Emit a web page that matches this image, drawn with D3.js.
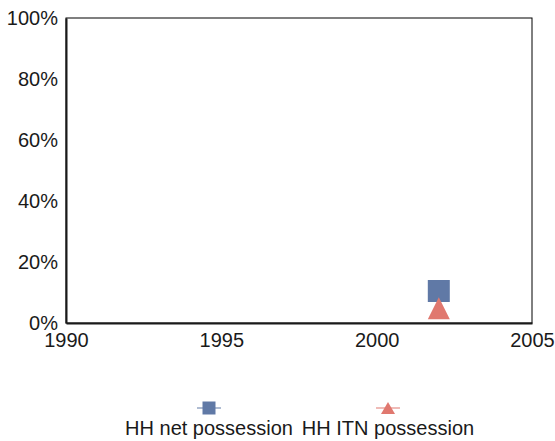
<!DOCTYPE html>
<html>
<head>
<meta charset="utf-8">
<title>HH net possession</title>
<script src="https://cdn.jsdelivr.net/npm/d3@7"></script>
<style>
  body { margin: 0; background: #fff; }
  text { font-family: "Liberation Sans", Arial, sans-serif; fill: #1a1a1a; }
</style>
</head>
<body>
<div id="chart"></div>
<script>
// data
var seriesNames = ["HH net possession", "HH ITN possession"];
var seriesColors = ["#6079a6", "#e0786f"];
var years = [2002];
var netValues = [0.105];
var itnValues = [0.048];
var yTicks = [0, 0.2, 0.4, 0.6, 0.8, 1.0];
var xTicks = [1990, 1995, 2000, 2005];

var width = 555, height = 441;
var margin = {top: 18, right: 23, bottom: 118, left: 66};

var svg = d3.select("#chart").append("svg")
    .attr("width", width)
    .attr("height", height);

var x = d3.scaleLinear().domain([1990, 2005]).range([margin.left, width - margin.right]);
var y = d3.scaleLinear().domain([0, 1]).range([height - margin.bottom, margin.top]);

// frame: thin top/right, heavier left/bottom
svg.append("rect")
    .attr("x", x(1990)).attr("y", y(1))
    .attr("width", x(2005) - x(1990)).attr("height", y(0) - y(1))
    .attr("fill", "none").attr("stroke", "#000").attr("stroke-width", 1);

var yAxis = svg.append("g")
    .attr("transform", "translate(" + x(1990) + ",0)")
    .call(d3.axisLeft(y).tickValues(yTicks).tickSize(0).tickPadding(8).tickFormat(d3.format(".0%")));
yAxis.select(".domain").attr("stroke", "#1a1a1a").attr("stroke-width", 2);
yAxis.selectAll("text").style("font-size", "20px");

var xAxis = svg.append("g")
    .attr("transform", "translate(0," + y(0) + ")")
    .call(d3.axisBottom(x).tickValues(xTicks).tickSize(0).tickPadding(10).tickFormat(d3.format("d")));
xAxis.select(".domain").attr("stroke", "#1a1a1a").attr("stroke-width", 2);
xAxis.selectAll("text").style("font-size", "20px");

// marker shapes
var square = d3.symbol().type(d3.symbolSquare).size(484);
function triangle(w, h) {
  var p = d3.path();
  p.moveTo(0, -h / 2);
  p.lineTo(w / 2, h / 2);
  p.lineTo(-w / 2, h / 2);
  p.closePath();
  return p.toString();
}

svg.append("g").selectAll("path")
    .data(years.map(function(d, i) { return {year: d, v: netValues[i]}; }))
    .enter().append("path")
    .attr("d", square)
    .attr("transform", function(d) { return "translate(" + x(d.year) + "," + y(d.v) + ")"; })
    .attr("fill", seriesColors[0]);

svg.append("g").selectAll("path")
    .data(years.map(function(d, i) { return {year: d, v: itnValues[i]}; }))
    .enter().append("path")
    .attr("d", triangle(22, 22))
    .attr("transform", function(d) { return "translate(" + x(d.year) + "," + y(d.v) + ")"; })
    .attr("fill", seriesColors[1]);

// legend
var legendX = [209, 388];
var legend = svg.append("g").selectAll("g")
    .data(seriesNames)
    .enter().append("g")
    .attr("transform", function(d, i) { return "translate(" + legendX[i] + ",408)"; });

legend.append("line")
    .attr("x1", -12).attr("x2", 12)
    .attr("stroke", function(d, i) { return seriesColors[i]; })
    .attr("stroke-opacity", 0.5)
    .attr("stroke-width", 2);

legend.append("path")
    .attr("d", function(d, i) { return i === 0 ? d3.symbol().type(d3.symbolSquare).size(169)() : triangle(14, 12); })
    .attr("fill", function(d, i) { return seriesColors[i]; });

legend.append("text")
    .attr("y", 27)
    .attr("text-anchor", "middle")
    .style("font-size", "20px")
    .text(function(d) { return d; });
</script>
</body>
</html>
